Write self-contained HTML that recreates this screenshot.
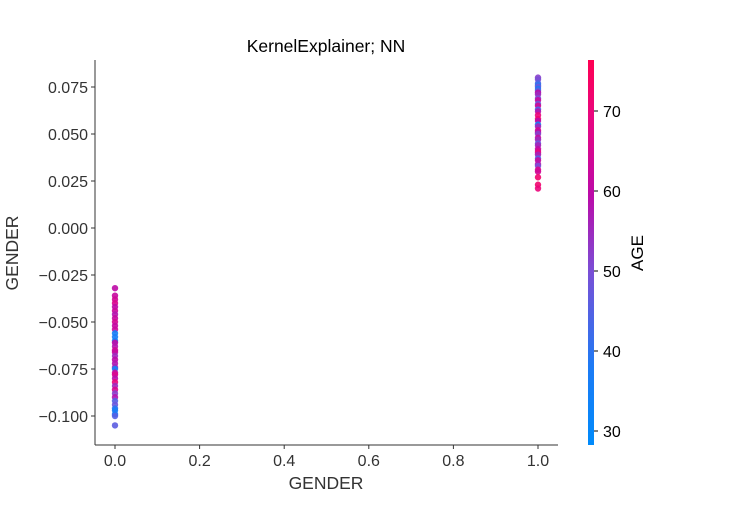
<!DOCTYPE html>
<html><head><meta charset="utf-8">
<style>
html,body{margin:0;padding:0;background:#fff;}
svg text{font-family:"Liberation Sans","DejaVu Sans",sans-serif;}
</style></head>
<body>
<svg id="chart" width="750" height="500" viewBox="0 0 750 500" xmlns="http://www.w3.org/2000/svg">
<defs>
<linearGradient id="cmap" x1="0" y1="1" x2="0" y2="0">
<stop offset="0" stop-color="#008bfb"/>
<stop offset="0.2" stop-color="#1c7bf5"/>
<stop offset="0.45" stop-color="#7a4fd6"/>
<stop offset="0.65" stop-color="#bc0aa8"/>
<stop offset="0.85" stop-color="#e80680"/>
<stop offset="1" stop-color="#ff0052"/>
</linearGradient>
</defs>
<text x="326" y="52" font-size="17.5" text-anchor="middle" fill="#000">KernelExplainer; NN</text>
<g id="plot"></g>
<rect x="588" y="60" width="6" height="385" fill="url(#cmap)"/>
<g id="cbar"></g>
<text transform="translate(643,253) rotate(-90)" font-size="17" text-anchor="middle" fill="#000">AGE</text>
<text x="326" y="489" font-size="17.5" text-anchor="middle" fill="#333">GENDER</text>
<text transform="translate(18,253) rotate(-90)" font-size="17.5" text-anchor="middle" fill="#333">GENDER</text>
</svg>
<script>
const xTicks=[0.0,0.2,0.4,0.6,0.8,1.0];
const yTicks=[0.075,0.050,0.025,0.000,-0.025,-0.050,-0.075,-0.100];
const cTicks=[30,40,50,60,70];
const male_shap=[-0.032,-0.036,-0.038,-0.040,-0.042,-0.044,-0.046,-0.048,-0.050,-0.052,-0.054,-0.056,-0.058,-0.060,-0.061,-0.063,-0.065,-0.066,-0.068,-0.070,-0.072,-0.074,-0.075,-0.077,-0.078,-0.080,-0.082,-0.084,-0.086,-0.088,-0.090,-0.092,-0.094,-0.096,-0.097,-0.099,-0.100,-0.105];
const male_age=[60,62,64,66,60,63,58,62,65,61,63,35,37,33,60,58,64,62,55,60,58,56,35,62,66,59,70,55,66,52,58,45,48,40,36,38,45,46];
const female_shap=[0.080,0.079,0.077,0.076,0.075,0.074,0.073,0.072,0.071,0.069,0.068,0.066,0.065,0.063,0.062,0.060,0.058,0.057,0.055,0.054,0.052,0.051,0.050,0.048,0.047,0.045,0.044,0.042,0.041,0.040,0.039,0.037,0.036,0.034,0.033,0.031,0.030,0.027,0.023,0.021];
const female_age=[52,50,44,40,48,38,46,60,55,50,62,48,64,44,58,70,72,60,35,56,65,60,52,62,55,48,56,60,65,70,56,45,62,58,50,66,64,72,72,70];
const X0=95,X1=558,Y0=60,Y1=445;
const xs=v=>115+v*423;
const ys=v=>228-v*1880;
const cy=a=>111+(70-a)*8;
const stops=[[0,[0,139,251]],[0.2,[28,123,245]],[0.45,[122,79,214]],[0.65,[188,10,168]],[0.85,[232,6,128]],[1,[255,0,82]]];
function col(a){let t=(a-28.2)/(76.4-28.2);t=Math.max(0,Math.min(1,t));for(let i=1;i<stops.length;i++){if(t<=stops[i][0]){const [t0,c0]=stops[i-1],[t1,c1]=stops[i];const f=(t-t0)/(t1-t0);return 'rgb('+c0.map((c,k)=>Math.round(c+(c1[k]-c)*f)).join(',')+')';}}return 'rgb(255,0,82)';}
const NS='http://www.w3.org/2000/svg';
function mk(tag,attrs,parent){const e=document.createElementNS(NS,tag);for(const k in attrs)e.setAttribute(k,attrs[k]);parent.appendChild(e);return e;}
const plot=document.getElementById('plot');
const la=mk('line',{x1:X0,y1:Y0,x2:X0,y2:Y1,stroke:'#333','stroke-width':1},plot);


const ba=mk('line',{x1:X0,y1:Y1,x2:X1,y2:Y1,stroke:'#333','stroke-width':1},plot);


xTicks.forEach(v=>{const x=xs(v);
const t=mk('line',{x1:x,y1:Y1,x2:x,y2:Y1+4,stroke:'#333'},plot);


const l=mk('text',{x:x,y:Y1+21,'font-size':16,'text-anchor':'middle',fill:'#333'},plot);l.textContent=v.toFixed(1);

});
yTicks.forEach(v=>{const y=ys(v);
const t=mk('line',{x1:X0-4,y1:y,x2:X0,y2:y,stroke:'#333'},plot);


const l=mk('text',{x:X0-7,y:y+6,'font-size':16,'text-anchor':'end',fill:'#333'},plot);l.textContent=(v<0?'\u2212':'')+Math.abs(v).toFixed(3);

});
function pts(xv,sh,ag){sh.forEach((s,i)=>{const c=mk('circle',{cx:xs(xv),cy:ys(s),r:3.2,fill:col(ag[i]),'fill-opacity':0.9},plot);

});}
pts(0,male_shap,male_age);
pts(1,female_shap,female_age);
const cb=document.getElementById('cbar');
cTicks.forEach(a=>{const y=cy(a);
const t=mk('line',{x1:594,y1:y,x2:598,y2:y,stroke:'#000'},cb);


const l=mk('text',{x:603,y:y+6,'font-size':16,fill:'#000'},cb);l.textContent=a;

});
</script>
</body></html>
